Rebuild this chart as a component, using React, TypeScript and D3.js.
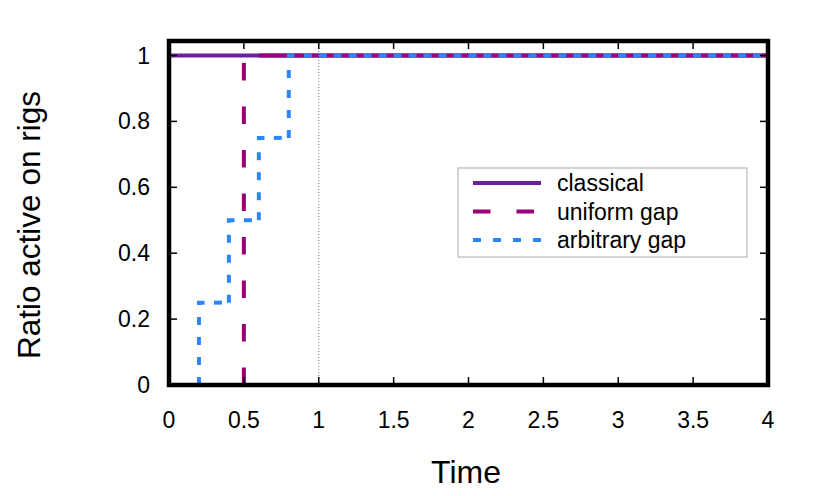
import React from 'react';
import * as d3 from 'd3';

// sampled every 0.1 time units (steps drawn as gnuplot fsteps)
const times = [
  0, 0.1, 0.2, 0.3, 0.4, 0.5, 0.6, 0.7, 0.8, 0.9, 1, 1.1, 1.2, 1.3, 1.4, 1.5, 1.6, 1.7, 1.8, 1.9, 2,
  2.1, 2.2, 2.3, 2.4, 2.5, 2.6, 2.7, 2.8, 2.9, 3, 3.1, 3.2, 3.3, 3.4, 3.5, 3.6, 3.7, 3.8, 3.9, 4,
];
const classical = [
  1, 1, 1, 1, 1, 1, 1, 1, 1, 1, 1, 1, 1, 1, 1, 1, 1, 1, 1, 1, 1,
  1, 1, 1, 1, 1, 1, 1, 1, 1, 1, 1, 1, 1, 1, 1, 1, 1, 1, 1, 1,
];
const uniformGap = [
  0, 0, 0, 0, 0, 0, 1, 1, 1, 1, 1, 1, 1, 1, 1, 1, 1, 1, 1, 1, 1,
  1, 1, 1, 1, 1, 1, 1, 1, 1, 1, 1, 1, 1, 1, 1, 1, 1, 1, 1, 1,
];
const arbitraryGap = [
  0, 0, 0, 0.25, 0.25, 0.5, 0.5, 0.75, 0.75, 1, 1, 1, 1, 1, 1, 1, 1, 1, 1, 1, 1,
  1, 1, 1, 1, 1, 1, 1, 1, 1, 1, 1, 1, 1, 1, 1, 1, 1, 1, 1, 1,
];
const xTicks = [0, 0.5, 1, 1.5, 2, 2.5, 3, 3.5, 4];
const yTicks = [0, 0.2, 0.4, 0.6, 0.8, 1];
const markerX = 1;

const series = [
  { name: 'classical', values: classical, color: '#6a1fa0', dash: '' },
  { name: 'uniform gap', values: uniformGap, color: '#990077', dash: '17.5,26' },
  { name: 'arbitrary gap', values: arbitraryGap, color: '#2c86fb', dash: '8,12' },
];

const font = '"Liberation Sans", Arial, sans-serif';

export default function App() {
  const x = d3.scaleLinear().domain([0, 4]).range([169, 768]);
  const y = d3.scaleLinear().domain([0, 1]).range([385, 55.5]);
  const top = y(1.044);
  const tick = 8;

  // one path per pair of samples so the dash pattern restarts like gnuplot does
  const segments = (vals: number[]) =>
    vals.slice(0, -1).map((v, i) => {
      const p = d3.path();
      p.moveTo(x(times[i]), y(v));
      p.lineTo(x(times[i]), y(vals[i + 1]));
      p.lineTo(x(times[i + 1]), y(vals[i + 1]));
      return p.toString();
    });

  const legendX = 458;
  const legendY = 168;

  return (
    <svg width={830} height={496} style={{ position: 'absolute', left: 0, top: 0 }} fontFamily={font}>
      <rect width={830} height={496} fill="#fff" />
      <line x1={x(markerX)} x2={x(markerX)} y1={y(0)} y2={top} stroke="#777" strokeWidth={1} strokeDasharray="1,2" />

      {series.map((s) => (
        <g key={s.name} fill="none" stroke={s.color} strokeWidth={4} strokeDasharray={s.dash || undefined}>
          {s.dash ? segments(s.values).map((d, i) => <path key={i} d={d} />) : (
            <path d={d3.line<number>().x((_, i) => x(times[i])).y((v) => y(v)).curve(d3.curveStepBefore)(s.values) || ''} />
          )}
        </g>
      ))}

      {/* ticks on all four sides */}
      <g stroke="#000" strokeWidth={1.5}>
        {xTicks.map((t) => (
          <g key={t}>
            <line x1={x(t)} x2={x(t)} y1={y(0)} y2={y(0) - tick} />
            <line x1={x(t)} x2={x(t)} y1={top} y2={top + tick} />
          </g>
        ))}
        {yTicks.map((t) => (
          <g key={t}>
            <line x1={x(0)} x2={x(0) + tick} y1={y(t)} y2={y(t)} />
            <line x1={x(4)} x2={x(4) - tick} y1={y(t)} y2={y(t)} />
          </g>
        ))}
      </g>
      <rect x={x(0)} y={top} width={x(4) - x(0)} height={y(0) - top} fill="none" stroke="#000" strokeWidth={4.5} />

      <g fontSize={23} fill="#000">
        {xTicks.map((t) => (
          <text key={t} x={x(t)} y={428} textAnchor="middle">{t}</text>
        ))}
        {yTicks.map((t) => (
          <text key={t} x={150} y={y(t)} dy="0.35em" textAnchor="end">{t}</text>
        ))}
      </g>
      <text x={466} y={483} fontSize={32} textAnchor="middle">Time</text>
      <text transform={`translate(40,225) rotate(-90)`} fontSize={31.5} textAnchor="middle">Ratio active on rigs</text>

      <rect x={legendX} y={legendY} width={289} height={89} fill="#fff" stroke="#aaa" strokeWidth={1} />
      {series.map((s, i) => {
        const ly = legendY + 15 + i * 28.5;
        return (
          <g key={s.name}>
            <line x1={legendX + 15} x2={legendX + 83} y1={ly} y2={ly} stroke={s.color} strokeWidth={4} strokeDasharray={s.dash || undefined} />
            <text x={legendX + 99} y={ly} dy="0.35em" fontSize={23}>{s.name}</text>
          </g>
        );
      })}
    </svg>
  );
}
